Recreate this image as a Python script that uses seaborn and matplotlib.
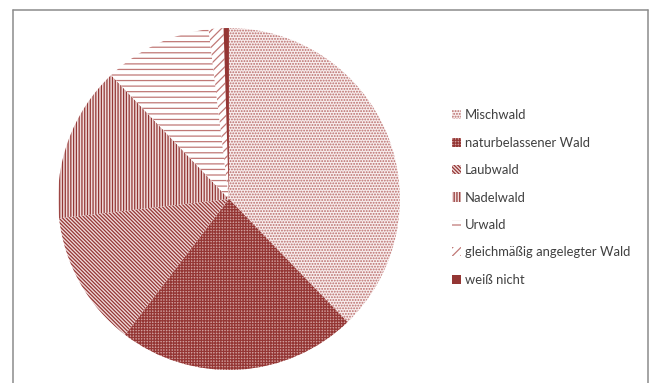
import matplotlib
matplotlib.use("Agg")
import matplotlib.pyplot as plt
from matplotlib.patches import Patch
from matplotlib.lines import Line2D
import seaborn as sns

sns.set_theme(style="white")
plt.rcParams["font.family"] = ["Lato", "DejaVu Sans"]
plt.rcParams["hatch.linewidth"] = 0.9

# Shares of forest types (percent)
categories = ["Mischwald", "naturbelassener Wald", "Laubwald", "Nadelwald",
              "Urwald", "gleichmäßig angelegter Wald", "weiß nicht"]
shares = [37.8, 22.6, 12.8, 14.7, 10.2, 1.4, 0.5]

dark = "#943634"
faces = ["#f8eded", "#d09e9d", "#f0dada", "#f0dcdc", "#ffffff", "#ffffff", dark]
hatch_colors = ["#b86a68", dark, dark, dark, "#c07876", "#c07876", dark]
hatches = ["......", "++++++", "\\" * 9, "||||||", "---", "////", ""]

fig = plt.figure(figsize=(6.5, 3.83), dpi=100)
ax = fig.add_axes([0.0892, 0.034, 0.526, 0.893])

wedges, _ = ax.pie(shares, startangle=90, counterclock=False,
                   wedgeprops=dict(linewidth=0))
for w, fc, hc, h in zip(wedges, faces, hatch_colors, hatches):
    w.set_facecolor(fc)
    w.set_edgecolor(hc)
    w.set_linewidth(0)
    w.set_hatch(h)
ax.set_xlim(-1, 1)
ax.set_ylim(-1, 1)
ax.set_aspect("equal")

handles = [Patch(facecolor=fc, edgecolor=hc, hatch=h, linewidth=0)
           for fc, hc, h in zip(faces, hatch_colors, hatches)]
fig.legend(handles, categories, loc="center left",
           bbox_to_anchor=(452 / 650, 0.484), frameon=False,
           fontsize=9.4, labelcolor="#404040",
           handlelength=0.7, handleheight=0.7, handletextpad=0.3,
           labelspacing=1.18, borderpad=0, borderaxespad=0)

# Chart frame (open at the bottom edge)
frame = dict(color="#8c8c8c", linewidth=1.1, transform=fig.transFigure)
fig.add_artist(Line2D([13 / 650, 13 / 650], [0, 1 - 10 / 383], **frame))
fig.add_artist(Line2D([13 / 650, 648 / 650], [1 - 10 / 383, 1 - 10 / 383], **frame))
fig.add_artist(Line2D([648 / 650, 648 / 650], [0, 1 - 10 / 383], **frame))

fig.savefig("out.png", dpi=100)
